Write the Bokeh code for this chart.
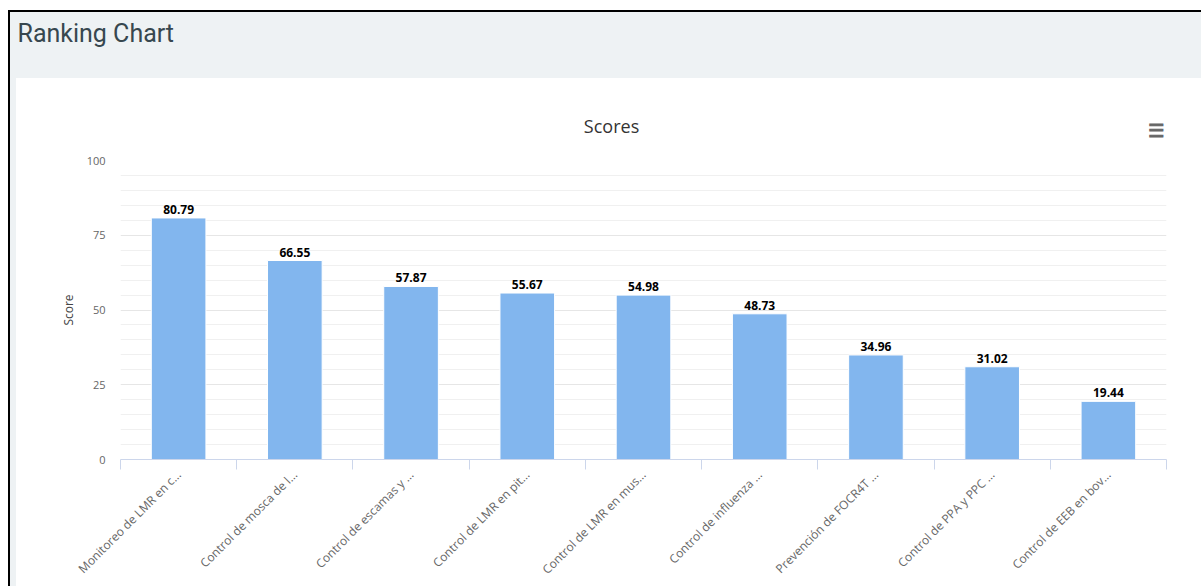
import math
from bokeh.plotting import figure
from bokeh.models import Range1d, FixedTicker, Label, ColumnDataSource, Title
from bokeh.layouts import column
from bokeh.embed import file_html
from bokeh.resources import INLINE
from bokeh.core.properties import value

# ---- data ----
categories = [
    "Monitoreo de LMR en c…",
    "Control de mosca de l…",
    "Control de escamas y …",
    "Control de LMR en pit…",
    "Control de LMR en mus…",
    "Control de influenza …",
    "Prevención de FOCR4T …",
    "Control de PPA y PPC …",
    "Control de EEB en bov…",
]
scores = [80.79, 66.55, 57.87, 55.67, 54.98, 48.73, 34.96, 31.02, 19.44]
y_ticks = [0, 25, 50, 75, 100]
y_minor_ticks = [5, 10, 15, 20, 30, 35, 40, 45, 55, 60, 65, 70, 80, 85, 90, 95]

page_title = "Ranking Chart"
chart_title = "Scores"
y_title = "Score"

GRAY = "#eef2f4"
FONT = "Open Sans"
LB, RB = 104, 35  # left / right borders of the chart frame

# ---- header band ----
header = figure(width=1191, height=66, toolbar_location=None, output_backend="svg",
                title=None, x_range=Range1d(0, 1), y_range=Range1d(0, 1),
                x_axis_location=None, y_axis_location=None,
                min_border_left=LB, min_border_right=RB, min_border_top=0, min_border_bottom=0,
                border_fill_color=GRAY, background_fill_color=GRAY, outline_line_color=None,
                styles={"background-color": GRAY})
header.grid.visible = False
header.add_layout(Title(text=page_title, align="left", offset=-101, standoff=0, padding=4,
                        text_font="Roboto", text_font_size="25px", text_font_style="normal",
                        text_color="#37474f"), "above")

# ---- main chart ----
centers = [i + 0.5 for i in range(len(categories))]
src = ColumnDataSource(dict(x=centers, top=scores, label=[f"{v:.2f}" for v in scores]))

p = figure(width=1185, height=437, x_range=Range1d(0, len(categories)), y_range=Range1d(0, 100),
           toolbar_location=None, output_backend="svg", title=None,
           min_border_left=LB, min_border_right=RB, min_border_top=11, min_border_bottom=127,
           outline_line_color=None, border_fill_color="white", background_fill_color="white",
           margin=(0, 0, 0, 6), styles={"background-color": "white"})

# ---- chart title bar (shares the chart's x scale) ----
titlebar = figure(width=1185, height=71, toolbar_location=None, output_backend="svg",
                  title=None, x_range=p.x_range, y_range=Range1d(0, 1),
                  x_axis_location=None, y_axis_location=None,
                  min_border_left=LB, min_border_right=RB, min_border_top=0, min_border_bottom=0,
                  border_fill_color="white", background_fill_color="white",
                  outline_line_color=None, margin=(0, 0, 0, 6),
                  styles={"background-color": "white"})
titlebar.grid.visible = False
titlebar.add_layout(Label(x=4.225, y=0.324, text=chart_title,
                          text_font=FONT, text_font_size="18px", text_color="#333333",
                          text_align="center", text_baseline="middle"))
titlebar.add_layout(Label(x=8.91, y=0.27, text="☰",
                          text_font="DejaVu Sans", text_font_size="18px",
                          text_color="#666666", text_outline_color="#666666",
                          text_align="center", text_baseline="middle"))

p.vbar(x="x", top="top", width=0.47, source=src, fill_color="#82b6ee", line_color="white", line_width=1)
p.text(x="x", y="top", text="label", source=src, y_offset=-4, text_align="center",
       text_baseline="bottom", text_font=value(FONT), text_font_style="bold",
       text_font_size="12px", text_color="#000000")

# y axis
p.yaxis.ticker = FixedTicker(ticks=y_ticks, minor_ticks=y_minor_ticks)
p.yaxis.axis_line_color = None
p.yaxis.major_tick_line_color = None
p.yaxis.minor_tick_line_color = None
p.yaxis.major_tick_out = 0
p.yaxis.major_label_standoff = 11
p.yaxis.major_label_text_font = FONT
p.yaxis.major_label_text_font_size = "11px"
p.yaxis.major_label_text_color = "#666666"
p.yaxis.axis_label = y_title
p.yaxis.axis_label_text_font = FONT
p.yaxis.axis_label_text_font_size = "12px"
p.yaxis.axis_label_text_font_style = "normal"
p.yaxis.axis_label_text_color = "#444444"
p.yaxis.axis_label_standoff = 7
p.ygrid.grid_line_color = "#e6e6e6"
p.ygrid.minor_grid_line_color = "#f0f0f0"
p.xgrid.visible = False

# x axis
p.xaxis.ticker = FixedTicker(ticks=centers, minor_ticks=list(range(len(categories) + 1)))
p.xaxis.major_label_overrides = {c: cat for c, cat in zip(centers, categories)}
p.xaxis.major_tick_line_color = None
p.xaxis.major_tick_out = 0
p.xaxis.major_tick_in = 0
p.xaxis.minor_tick_line_color = "#ccd6eb"
p.xaxis.minor_tick_out = 10
p.xaxis.minor_tick_in = 0
p.xaxis.axis_line_color = "#ccd6eb"
p.xaxis.major_label_orientation = math.pi / 4
p.xaxis.major_label_standoff = 3
p.xaxis.major_label_text_font = FONT
p.xaxis.major_label_text_font_size = "12px"
p.xaxis.major_label_text_color = "#666666"

layout = column(header, titlebar, p, margin=(10, 0, 0, 8), spacing=0,
                styles={"border-left": "2px solid #000", "border-top": "2px solid #000",
                        "background-color": GRAY})

open("out.html", "w").write(file_html(layout, INLINE))
